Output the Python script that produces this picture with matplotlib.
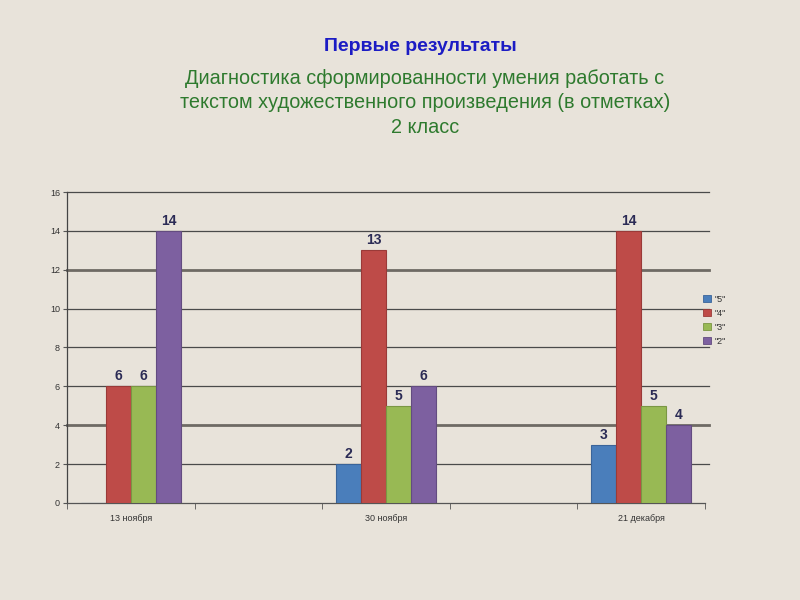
import numpy as np
import matplotlib
matplotlib.use("Agg")
import matplotlib.pyplot as plt
from matplotlib.patches import Patch

dates = ["13 ноября", "30 ноября", "21 декабря"]
series_names = ['"5"', '"4"', '"3"', '"2"']
s5 = [0, 2, 3]
s4 = [6, 13, 14]
s3 = [6, 5, 5]
s2 = [14, 6, 4]
yticks = [0, 2, 4, 6, 8, 10, 12, 14, 16]

title = "Первые результаты"
subtitle = ["Диагностика сформированности умения работать с",
            "текстом художественного произведения (в отметках)",
            "2 класс"]

colors = ["#4a7ebb", "#be4b48", "#98b954", "#7d60a0"]
edge = ["#3a6499", "#9a3a38", "#7a9643", "#634c80"]
bg = "#e8e3da"

plt.rcParams['font.family'] = ['Liberation Sans', 'DejaVu Sans']

fig = plt.figure(figsize=(8, 6), dpi=100, facecolor=bg)
ax = fig.add_axes([0.08375, 0.1617, 0.7975, 0.5183])
ax.set_facecolor(bg)

n_slots = 2 * len(dates) - 1
x = np.arange(len(dates)) * 2
w = 0.197
data = [s5, s4, s3, s2]
for i, (vals, c, ec, name) in enumerate(zip(data, colors, edge, series_names)):
    pos = x + (i - 1.5) * w
    ax.bar(pos, vals, width=w, color=c, edgecolor=ec, linewidth=0.8, label=name, zorder=3)
    for px, v in zip(pos, vals):
        if v > 0:
            ax.text(px, v + 0.15, str(v), ha='center', va='bottom', fontsize=10,
                    fontweight='bold', color='#2b2b55', zorder=4)

ax.set_xlim(-0.5, n_slots - 0.5)
ax.set_ylim(0, 16)
ax.set_yticks(yticks)
ax.set_yticklabels([str(t) for t in yticks], fontsize=6.5, color='#333333')
for t in yticks[1:]:
    if t in (4, 12):
        ax.axhline(t, xmax=1.006, color='#6e6a64', linewidth=2.0, zorder=1, clip_on=False)
    else:
        ax.axhline(t, xmax=1.006, color='#4a4a4a', linewidth=0.9, zorder=1, clip_on=False)

ax.set_xticks(x)
ax.set_xticklabels(dates, fontsize=6.5, color='#333333')
ax.tick_params(axis='x', which='major', length=0, pad=8)
ax.set_xticks(np.arange(-0.5, n_slots, 1.0), minor=True)
ax.tick_params(axis='x', which='minor', length=4, color='#555555', direction='out')
ax.tick_params(axis='y', length=3, color='#555555', pad=2)

for s in ['top', 'right']:
    ax.spines[s].set_visible(False)
ax.spines['left'].set_color('#444444')
ax.spines['bottom'].set_color('#555555')
ax.spines['left'].set_linewidth(0.9)
ax.spines['bottom'].set_linewidth(0.9)

handles = [Patch(facecolor=c, edgecolor=ec, linewidth=0.6) for c, ec in zip(colors, edge)]
fig.legend(handles, series_names, loc='upper left', bbox_to_anchor=(0.874, 0.515),
           frameon=False, fontsize=6.5, handlelength=0.9, handleheight=0.9,
           handletextpad=0.4, labelspacing=0.55, borderaxespad=0, labelcolor='#333333')

fig.text(0.525, 0.922, title, ha='center', va='center', fontsize=14,
         fontweight='bold', color='#1c1cc4')
for k, line in enumerate(subtitle):
    fig.text(0.531, 0.870 - k * 0.0415, line, ha='center', va='center',
             fontsize=14.3, color='#2e7a2e')

fig.savefig("out.png", dpi=100, facecolor=bg)
